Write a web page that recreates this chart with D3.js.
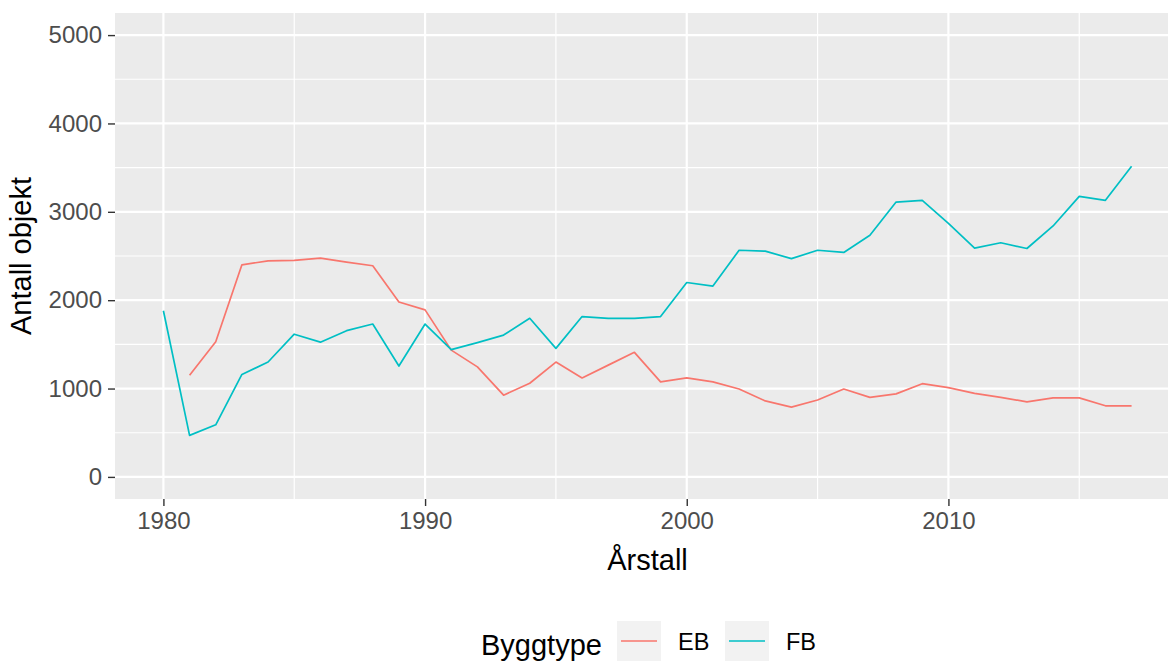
<!DOCTYPE html>
<html>
<head>
<meta charset="utf-8">
<script src="https://cdn.jsdelivr.net/npm/d3@7"></script>
<style>
  body { margin: 0; background: #fff; }
  svg { display: block; font-family: "Liberation Sans", Arial, sans-serif; }
</style>
</head>
<body>
<div id="wrapper"></div>
<script>
// data
const years = [1980, 1981, 1982, 1983, 1984, 1985, 1986, 1987, 1988, 1989,
  1990, 1991, 1992, 1993, 1994, 1995, 1996, 1997, 1998, 1999,
  2000, 2001, 2002, 2003, 2004, 2005, 2006, 2007, 2008, 2009,
  2010, 2011, 2012, 2013, 2014, 2015, 2016, 2017]
const ebValues = [null, 1150, 1530, 2400, 2445, 2450, 2475, 2430, 2390, 1980,
  1890, 1435, 1245, 925, 1060, 1300, 1120, 1265, 1410, 1075,
  1120, 1075, 995, 860, 790, 870, 995, 900, 940, 1055,
  1010, 945, 900, 850, 895, 895, 805, 805]
const fbValues = [1880, 470, 590, 1160, 1300, 1615, 1525, 1655, 1730, 1255,
  1730, 1440, 1520, 1605, 1795, 1455, 1815, 1795, 1795, 1815,
  2200, 2160, 2565, 2555, 2470, 2565, 2540, 2735, 3110, 3130,
  2870, 2590, 2650, 2585, 2840, 3175, 3130, 3515]
const seriesNames = ["EB", "FB"]
const seriesColors = ["#F8766D", "#00BFC4"]
const xTicks = [1980, 1990, 2000, 2010]
const xMinorTicks = [1985, 1995, 2005, 2015]
const yTicks = [0, 1000, 2000, 3000, 4000, 5000]
const yMinorTicks = [500, 1500, 2500, 3500, 4500]

function drawChart() {
  const dimensions = {
    width: 1168,
    height: 661,
    margin: { top: 13, right: -12, bottom: 162, left: 115 },
  }
  dimensions.boundedWidth = dimensions.width - dimensions.margin.left - dimensions.margin.right
  dimensions.boundedHeight = dimensions.height - dimensions.margin.top - dimensions.margin.bottom

  const wrapper = d3.select("#wrapper")
    .append("svg")
      .attr("width", dimensions.width)
      .attr("height", dimensions.height)

  const bounds = wrapper.append("g")
      .attr("transform", `translate(${dimensions.margin.left},${dimensions.margin.top})`)

  // scales, with ggplot's 5% expansion
  const xScale = d3.scaleLinear()
    .domain([1978.15, 2018.85])
    .range([0, dimensions.boundedWidth])
  const yScale = d3.scaleLinear()
    .domain([-250, 5250])
    .range([dimensions.boundedHeight, 0])

  // panel
  bounds.append("rect")
      .attr("width", dimensions.boundedWidth)
      .attr("height", dimensions.boundedHeight)
      .attr("fill", "#EBEBEB")

  bounds.selectAll(".minor-y").data(yMinorTicks).enter().append("line")
      .attr("x1", 0).attr("x2", dimensions.boundedWidth)
      .attr("y1", d => yScale(d)).attr("y2", d => yScale(d))
      .attr("stroke", "#fff").attr("stroke-width", 1.2)
  bounds.selectAll(".minor-x").data(xMinorTicks).enter().append("line")
      .attr("y1", 0).attr("y2", dimensions.boundedHeight)
      .attr("x1", d => xScale(d)).attr("x2", d => xScale(d))
      .attr("stroke", "#fff").attr("stroke-width", 1.2)
  bounds.selectAll(".major-y").data(yTicks).enter().append("line")
      .attr("x1", 0).attr("x2", dimensions.boundedWidth)
      .attr("y1", d => yScale(d)).attr("y2", d => yScale(d))
      .attr("stroke", "#fff").attr("stroke-width", 2.2)
  bounds.selectAll(".major-x").data(xTicks).enter().append("line")
      .attr("y1", 0).attr("y2", dimensions.boundedHeight)
      .attr("x1", d => xScale(d)).attr("x2", d => xScale(d))
      .attr("stroke", "#fff").attr("stroke-width", 2.2)

  // lines
  const series = [ebValues, fbValues]
  const lineGenerator = d3.line()
    .defined(d => d[1] != null)
    .x(d => xScale(d[0]))
    .y(d => yScale(d[1]))

  series.forEach((values, i) => {
    bounds.append("path")
        .datum(years.map((y, j) => [y, values[j]]))
        .attr("d", lineGenerator)
        .attr("fill", "none")
        .attr("stroke", seriesColors[i])
        .attr("stroke-width", 1.7)
        .attr("stroke-linejoin", "round")
  })

  // axes
  const xAxis = bounds.append("g")
      .attr("transform", `translate(0,${dimensions.boundedHeight})`)
      .call(d3.axisBottom(xScale).tickValues(xTicks).tickFormat(d3.format("d")).tickSizeOuter(0).tickSize(7).tickPadding(6))
  xAxis.select(".domain").remove()
  xAxis.selectAll(".tick line").attr("stroke", "#333").attr("stroke-width", 1.4)
  xAxis.selectAll(".tick text")
      .attr("fill", "#4D4D4D")
      .style("font-size", "24px")
      .style("font-family", "Liberation Sans, Arial, sans-serif")

  const yAxis = bounds.append("g")
      .call(d3.axisLeft(yScale).tickValues(yTicks).tickFormat(d3.format("d")).tickSizeOuter(0).tickSize(7).tickPadding(6))
  yAxis.select(".domain").remove()
  yAxis.selectAll(".tick line").attr("stroke", "#333").attr("stroke-width", 1.4)
  yAxis.selectAll(".tick text")
      .attr("fill", "#4D4D4D")
      .style("font-size", "24px")
      .style("font-family", "Liberation Sans, Arial, sans-serif")

  wrapper.append("text")
      .attr("x", dimensions.margin.left + dimensions.boundedWidth / 2)
      .attr("y", 570)
      .attr("text-anchor", "middle")
      .attr("fill", "#000")
      .style("font-size", "29px")
      .text("Årstall")

  wrapper.append("text")
      .attr("transform", `translate(31,${dimensions.margin.top + dimensions.boundedHeight / 2}) rotate(-90)`)
      .attr("text-anchor", "middle")
      .attr("fill", "#000")
      .style("font-size", "29px")
      .text("Antall objekt")

  // legend
  const legend = wrapper.append("g")
  legend.append("text")
      .attr("x", 481)
      .attr("y", 655)
      .attr("fill", "#000")
      .style("font-size", "29px")
      .text("Byggtype")

  const keyX = [617, 725]
  seriesNames.forEach((name, i) => {
    legend.append("rect")
        .attr("x", keyX[i]).attr("y", 621)
        .attr("width", 44).attr("height", 40)
        .attr("fill", "#F2F2F2")
    legend.append("line")
        .attr("x1", keyX[i] + 4).attr("x2", keyX[i] + 40)
        .attr("y1", 641).attr("y2", 641)
        .attr("stroke", seriesColors[i])
        .attr("stroke-width", 1.7)
    legend.append("text")
        .attr("x", keyX[i] + 61)
        .attr("y", 650)
        .attr("fill", "#000")
        .style("font-size", "23.5px")
        .text(name)
  })
}
drawChart()
</script>
</body>
</html>
